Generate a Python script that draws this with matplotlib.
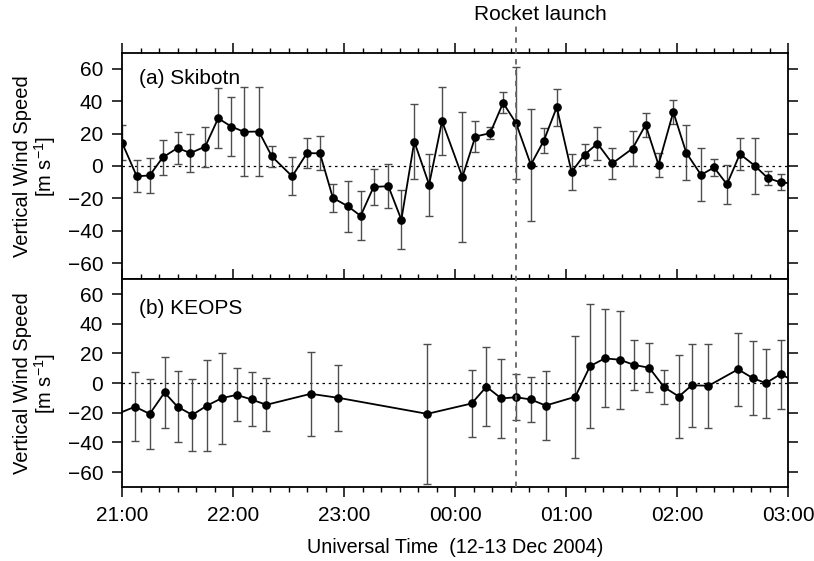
import matplotlib
matplotlib.use("Agg")
from matplotlib import pyplot as plt
from matplotlib.lines import Line2D
import matplotlib.transforms as mtransforms

plt.rcParams['font.family'] = ['Liberation Sans', 'DejaVu Sans']
plt.rcParams['mathtext.default'] = 'regular'

# minutes after 21:00 UT
ski_time = [0, 8, 15, 22, 30, 37, 45, 52, 59, 66, 74, 81, 92, 100, 107, 114,
            122, 129, 136, 144, 151, 158, 166, 173, 184, 191, 199, 206, 213,
            221, 228, 235, 243, 250, 257, 265, 276, 283, 290, 298, 305, 313,
            320, 327, 334, 342, 349, 356, 364]
ski_speed = [14.5, -6.4, -5.8, 5.3, 11.1, 8.0, 12.0, 29.5, 24.4, 21.1, 21.3,
             5.9, -6.4, 8.0, 7.8, -19.7, -24.8, -30.8, -12.9, -12.5, -33.2,
             15.1, -11.5, 27.7, -6.8, 18.2, 20.3, 39.0, 26.5, 0.8, 15.6, 36.3,
             -3.7, 7.0, 13.9, 1.6, 10.8, 25.4, 0.8, 33.4, 8.2, -5.5, -0.9,
             -11.3, 7.4, 0.2, -7.4, -10.1, -11.0]
ski_err = [11.1, 9.9, 11.0, 10.8, 9.7, 12.0, 12.4, 18.6, 18.1, 27.4, 27.6,
           6.5, 11.8, 9.0, 10.5, 8.6, 15.8, 15.1, 11.0, 13.6, 18.3, 23.3,
           19.2, 21.0, 40.2, 9.5, 3.6, 6.5, 34.4, 34.7, 7.6, 11.5, 11.0, 6.5,
           10.0, 9.8, 10.6, 7.6, 7.3, 7.5, 16.9, 16.4, 5.3, 12.1, 9.8, 17.2,
           4.1, 4.9, 4.0]

keo_time = [-7, 7, 15, 23, 30, 38, 46, 54, 62, 70, 78, 102, 117, 165, 189,
            197, 205, 213, 221, 229, 245, 253, 261, 269, 277, 285, 293, 301,
            308, 317, 333, 341, 348, 356, 364]
keo_speed = [-23.0, -15.9, -20.7, -6.3, -15.9, -21.4, -15.1, -10.1, -7.9,
             -11.0, -14.6, -7.2, -9.9, -20.7, -13.7, -2.4, -10.3, -9.5, -11.0,
             -15.1, -9.2, 11.5, 16.7, 15.8, 12.2, 10.4, -2.7, -9.0, -1.4,
             -1.8, 9.3, 3.4, 0.0, 6.1, 1.0]
keo_err = [20.0, 23.1, 23.4, 23.6, 23.9, 24.1, 30.5, 30.7, 17.8, 18.2, 17.8,
           28.2, 22.4, 47.2, 22.5, 26.7, 26.7, 15.5, 15.1, 23.3, 41.3, 41.9,
           33.0, 33.0, 17.0, 16.4, 11.3, 28.1, 28.1, 28.3, 24.6, 24.8, 23.2,
           23.2, 20.0]

launch_time = 213
hour_ticks = [0, 60, 120, 180, 240, 300, 360]
hour_labels = ['21:00', '22:00', '23:00', '00:00', '01:00', '02:00', '03:00']
panel_names = ['(a) Skibotn', '(b) KEOPS']

fig = plt.figure(figsize=(8.14, 5.61), dpi=100)
W, H = 814, 561
left, right = 122 / W, 788 / W
ax1 = fig.add_axes([left, 1 - 279.3 / H, right - left, (279.3 - 52.7) / H])
ax2 = fig.add_axes([left, 1 - 487 / H, right - left, (487 - 279.3) / H])

fs = 15
for ax, t, v, e, name, ty in [(ax1, ski_time, ski_speed, ski_err, panel_names[0], 0.885),
                               (ax2, keo_time, keo_speed, keo_err, panel_names[1], 0.86)]:
    ax.axhline(0, color='black', linestyle=(0, (2, 3)), linewidth=0.9, zorder=1)
    ax.errorbar(t, v, yerr=e, fmt='none', ecolor='0.3', elinewidth=1.0,
                capsize=2.6, capthick=1.0, zorder=2)
    ax.plot(t, v, color='black', linewidth=1.3, marker='o', markersize=5.2, zorder=3)
    ax.set_xlim(0, 360)
    ax.set_ylim(-70, 70)
    ax.set_yticks(range(-60, 61, 20))
    ax.set_xticks(hour_ticks)
    ax.set_xticks(range(0, 361, 10), minor=True)
    ax.tick_params(axis='both', which='major', direction='out', length=7, width=1.1,
                   labelsize=fs, top=True, right=True)
    ax.tick_params(axis='y', which='major', pad=6.5)
    ax.tick_params(axis='x', which='major', pad=7)
    ax.tick_params(axis='x', which='minor', direction='out', length=3.5, width=1.0,
                   top=True)
    for s in ax.spines.values():
        s.set_linewidth(1.3)
    ax.text(0.026, ty, name, transform=ax.transAxes, fontsize=fs, va='center', ha='left')
    ax.set_ylabel('Vertical Wind Speed\n[m s$^{-1}$]', fontsize=14.5, linespacing=1.0,
                  labelpad=7)

ax1.tick_params(axis='x', labelbottom=False)
ax2.set_xticklabels(hour_labels)
ax2.set_xlabel('Universal Time  (12-13 Dec 2004)', fontsize=14.2, labelpad=9)
ax2.tick_params(axis='x', which='both', top=True)

# rocket launch marker across both panels
trans = mtransforms.blended_transform_factory(ax1.transData, fig.transFigure)
fig.add_artist(Line2D([launch_time, launch_time], [1 - 487 / H, 1 - 24 / H],
                      transform=trans, color='0.4', linestyle=(0, (3, 3)),
                      linewidth=1.3, zorder=0.5))
fig.text(474 / W, 1 - 15 / H, 'Rocket launch', fontsize=fs,
         ha='left', va='center')

fig.savefig('out.png', dpi=100)
